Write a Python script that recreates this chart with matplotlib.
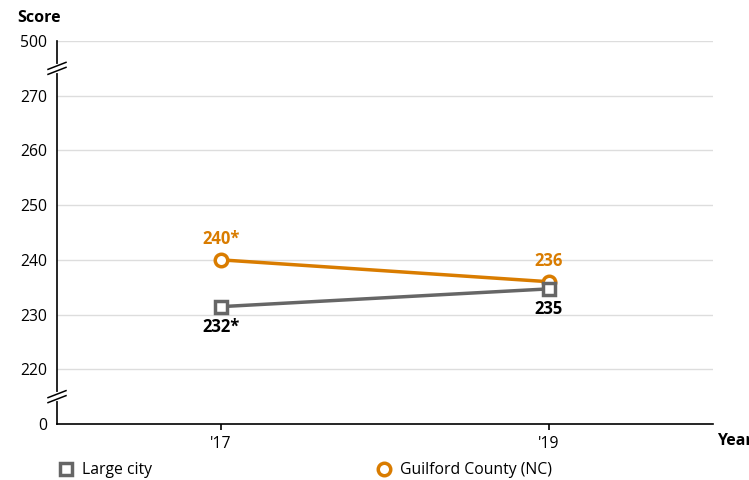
import matplotlib
matplotlib.use('Agg')
import numpy as np
import matplotlib.pyplot as plt
from matplotlib.lines import Line2D

# Data
years = [2017, 2019]
year_labels = ["'17", "'19"]
large_city = [231.45, 234.7]
large_city_labels = ['232*', '235']
guilford = [240.0, 236.0]
guilford_labels = ['240*', '236']
y_ticks = [0, 220, 230, 240, 250, 260, 270, 500]

ORANGE = '#D97C00'
GRAY = '#666666'

# broken axis: 0 | 220..270 | 500
scale_vals = [0, 220, 270, 500]
scale_pos = [0, 1, 6, 7]


def forward(v):
    return np.interp(v, scale_vals, scale_pos)


def inverse(p):
    return np.interp(p, scale_pos, scale_vals)


plt.rcParams['font.family'] = ['Open Sans', 'DejaVu Sans']

fig = plt.figure(figsize=(7.49, 4.80), dpi=100)
ax = fig.add_axes([57 / 749, 1 - 424 / 480, (713 - 57) / 749, (424 - 41) / 480])
ax.set_yscale('function', functions=(forward, inverse))

ax.plot(years, guilford, color=ORANGE, lw=2.5, marker='o', ms=9,
        mfc='white', mec=ORANGE, mew=2.5, zorder=3)
ax.plot(years, large_city, color=GRAY, lw=2.5, marker='s', ms=8,
        mfc='white', mec=GRAY, mew=2.5, zorder=4)

for x, y, t in zip(years, guilford, guilford_labels):
    ax.annotate(t, (x, y), xytext=(0, 15), textcoords='offset points',
                ha='center', va='center', color=ORANGE, fontsize=12, weight='bold')
for x, y, t in zip(years, large_city, large_city_labels):
    ax.annotate(t, (x, y), xytext=(0, -14.5), textcoords='offset points',
                ha='center', va='center', color='black', fontsize=12, weight='bold')

# Limits and ticks
ax.set_xlim(2016, 2020)
ax.set_ylim(0, 500)
ax.set_xticks(years)
ax.set_xticklabels(year_labels)
ax.set_yticks(y_ticks)
ax.set_yticklabels([str(v) for v in y_ticks])
ax.minorticks_off()

# Style
for side in ['top', 'right']:
    ax.spines[side].set_visible(False)
ax.spines['left'].set_linewidth(1.2)
ax.spines['bottom'].set_linewidth(1.2)
ax.tick_params(axis='y', length=0, pad=7.2, labelsize=11.3)
ax.tick_params(axis='x', length=4.5, width=1.2, pad=4, labelsize=11.3)
for v in y_ticks[1:]:
    ax.axhline(v, color='#DDDDDD', lw=1, zorder=1)

# axis break marks
px_w = (713 - 57)
px_h = (424 - 41)
for yb in [6.5 / 7, 0.5 / 7]:
    gap = 2.5 / px_h
    ax.add_line(Line2D([0, 0], [yb - gap, yb + gap], transform=ax.transAxes,
                       color='white', lw=3, clip_on=False, zorder=5))
    for off in [-gap, gap]:
        ax.add_line(Line2D([-9 / px_w, 9 / px_w],
                           [yb + off - 3.5 / px_h, yb + off + 3.5 / px_h],
                           transform=ax.transAxes, color='black', lw=1.1,
                           clip_on=False, zorder=6))

fig.text(17 / 749, 1 - 18 / 480, 'Score', ha='left', va='center',
         fontsize=11.5, weight='bold')
fig.text(717 / 749, 1 - 441 / 480, 'Year', ha='left', va='center',
         fontsize=11.5, weight='bold')

handles = [
    Line2D([], [], ls='none', marker='s', ms=8, mfc='white', mec=GRAY, mew=2.5),
    Line2D([], [], ls='none', marker='o', ms=9, mfc='white', mec=ORANGE, mew=2.5),
]
fig.legend(handles, ['Large city', 'Guilford County (NC)'], loc='center left',
           bbox_to_anchor=(58 / 749, 1 - 470 / 480), ncol=2, frameon=False,
           fontsize=11.3, handlelength=1.0, handletextpad=0.5,
           columnspacing=14.3, borderpad=0, borderaxespad=0)

fig.savefig('out.png', dpi=100)
